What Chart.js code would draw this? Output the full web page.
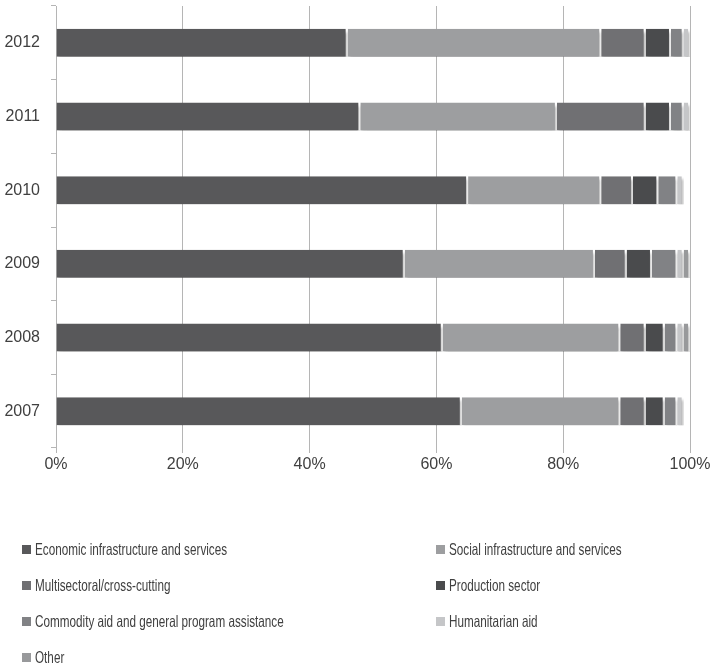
<!DOCTYPE html>
<html>
<head>
<meta charset="utf-8">
<script src="https://cdn.jsdelivr.net/npm/chart.js@4/dist/chart.umd.min.js"></script>
<style>
    body { margin: 0; background: #fff; }
    #wrap { position: relative; width: 711px; height: 671px; }
    #box { position: absolute; left: 0; top: 0; width: 711px; height: 480px; }
    #legend { position: absolute; left: 0; top: 0; width: 711px; height: 671px; pointer-events: none; }
    .item { position: absolute; height: 20px; line-height: 20px; font-family: "Liberation Sans", Arial, sans-serif; font-size: 16.5px; color: #404040; white-space: nowrap; }
    .item span.sw { position: absolute; left: 0; top: 6px; width: 9px; height: 9px; }
    .item span.tx { position: absolute; left: 13px; top: 0; transform: scaleX(0.71); transform-origin: 0 50%; }
</style>
</head>
<body>
<div id="wrap">
    <div id="box"><canvas id="grafico"></canvas></div>
    <div id="legend"></div>
</div>
<script>
var anios = ['2012', '2011', '2010', '2009', '2008', '2007'];
var etiquetasX = ['0%', '20%', '40%', '60%', '80%', '100%'];

var economica = [46, 48, 65, 55, 61, 64];
var social = [40, 31, 21, 30, 28, 25];
var multisectorial = [7, 14, 5, 5, 4, 4];
var produccion = [4, 4, 4, 4, 3, 3];
var mercancias = [2, 2, 3, 4, 2, 2];
var humanitaria = [1, 1, 1, 1, 1, 1];
var otros = [0, 0, 0, 1, 1, 0];

var nombres = [
    'Economic infrastructure and services',
    'Social infrastructure and services',
    'Multisectoral/cross-cutting',
    'Production sector',
    'Commodity aid and general program assistance',
    'Humanitarian aid',
    'Other'
];
var series = [economica, social, multisectorial, produccion, mercancias, humanitaria, otros];
var colores = ['#58585a', '#9d9ea0', '#707073', '#4a4b4d', '#818285', '#c5c6c8', '#98999b'];

var datasets = series.map(function(valores, i) {
    return {
        label: nombres[i],
        data: valores,
        backgroundColor: colores[i],
        borderColor: '#ffffff',
        borderWidth: {left: 0, right: 2, top: 0, bottom: 0},
        borderSkipped: false,
        barPercentage: 0.76,
        categoryPercentage: 0.5
    };
});

// sombra suave bajo las barras, como en el original
var sombra = {
    id: 'sombra',
    beforeDatasetsDraw: function(chart) {
        var c = chart.ctx;
        c.save();
        c.shadowColor = 'rgba(0,0,0,0.35)';
        c.shadowBlur = 3;
        c.shadowOffsetX = 1;
        c.shadowOffsetY = 3;
    },
    afterDatasetsDraw: function(chart) {
        chart.ctx.restore();
    }
};

var fuente = { family: '"Liberation Sans", Arial, sans-serif', size: 16 };

var grafico = new Chart(document.getElementById('grafico').getContext('2d'), {
    type: 'bar',
    data: { labels: anios, datasets: datasets },
    plugins: [sombra],
    options: {
        indexAxis: 'y',
        responsive: true,
        maintainAspectRatio: false,
        animation: false,
        layout: { padding: { left: 0, right: 21, top: 6, bottom: 0 } },
        plugins: { legend: { display: false }, tooltip: { enabled: false } },
        scales: {
            x: {
                stacked: true,
                min: 0,
                max: 100,
                afterFit: function(s) { s.height = 32; s.paddingLeft = 0; s.paddingRight = 0; },
                ticks: {
                    stepSize: 20,
                    color: '#404040',
                    font: fuente,
                    padding: 2,
                    callback: function(v, i) { return etiquetasX[i]; }
                },
                grid: { color: '#b5b5b5', lineWidth: 1, tickLength: 5 },
                border: { display: false }
            },
            y: {
                stacked: true,
                afterFit: function(s) { s.width = 56; s.paddingTop = 0; s.paddingBottom = 0; },
                ticks: { color: '#404040', font: fuente, padding: 11 },
                grid: { drawOnChartArea: false, color: '#b5b5b5', tickLength: 5, offset: true },
                border: { display: true, color: '#b5b5b5' }
            }
        }
    }
});

// leyenda en dos columnas, armada desde los datasets del grafico
var leyenda = document.getElementById('legend');
var posX = [22, 436];
var posY = [549, 585, 621, 657];
grafico.data.datasets.forEach(function(ds, i) {
    var div = document.createElement('div');
    div.className = 'item';
    div.style.left = posX[i % 2] + 'px';
    div.style.top = (posY[Math.floor(i / 2)] - 10) + 'px';
    div.innerHTML = '<span class="sw" style="background:' + ds.backgroundColor + '"></span><span class="tx">' + ds.label + '</span>';
    leyenda.appendChild(div);
});
</script>
</body>
</html>
